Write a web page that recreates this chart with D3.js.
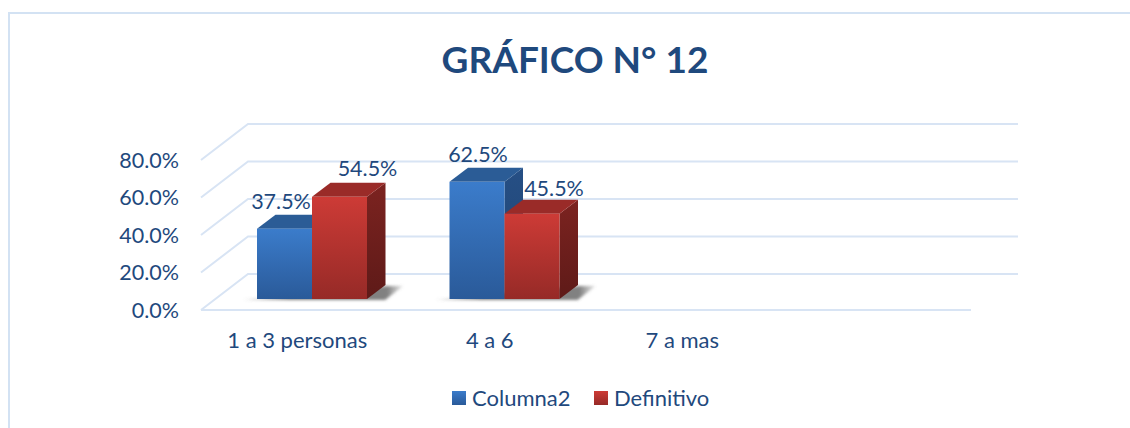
<!DOCTYPE html>
<html>
<head>
<meta charset="utf-8">
<script src="https://cdn.jsdelivr.net/npm/d3@7"></script>
<style>
html,body{margin:0;padding:0;background:#fff;overflow:hidden}
text{font-family:Lato,"Open Sans",sans-serif;fill:#1f497d}
</style>
</head>
<body>
<div id="chart"></div>
<script>
const titleText = "GRÁFICO N° 12";
const categories = ["1 a 3 personas", "4 a 6", "7 a mas", ""];
const seriesNames = ["Columna2", "Definitivo"];
const columna2 = [37.5, 62.5, null, null];
const definitivo = [54.5, 45.5, null, null];
const yTicks = [0, 20, 40, 60, 80];

const W = 1130, H = 428;
const wall = {dx: 47, dy: -36};
const barDepth = {dx: 18.5, dy: -14};
const barBase = 299;
const labelNudge = [[[-3.5, -27], [28, -28]], [[1, -27], [22, -25]]];
const gridColor = "#d8e4f4";

const svg = d3.select("#chart").append("svg").attr("width", W).attr("height", H);
const defs = svg.append("defs");

const x0 = d3.scaleBand().domain(categories).range([201, 971]);
const x1 = d3.scaleBand().domain(seriesNames).range([56, 166]);
const y = d3.scaleLinear().domain([0, 80]).range([310, 160]);

function grad(id, top, bottom) {
  const g = defs.append("linearGradient").attr("id", id).attr("x1", 0).attr("x2", 0).attr("y1", 0).attr("y2", 1);
  g.append("stop").attr("offset", "0%").attr("stop-color", top);
  g.append("stop").attr("offset", "100%").attr("stop-color", bottom);
}
grad("blueFront", "#3b7ccb", "#2a5a99");
grad("redFront", "#cd3b36", "#962a27");
grad("blueSide", "#264f85", "#1f4472");
grad("redSide", "#7c2320", "#5e1a18");
const sg = defs.append("linearGradient").attr("id", "shadow").attr("x1", 0).attr("x2", 1).attr("y1", 0).attr("y2", 0);
sg.append("stop").attr("offset", "0%").attr("stop-color", "#777").attr("stop-opacity", 0.25);
sg.append("stop").attr("offset", "30%").attr("stop-color", "#555").attr("stop-opacity", 0.75);
sg.append("stop").attr("offset", "90%").attr("stop-color", "#555").attr("stop-opacity", 0.75);
sg.append("stop").attr("offset", "100%").attr("stop-color", "#777").attr("stop-opacity", 0.2);
defs.append("filter").attr("id", "soft").attr("x", "-10%").attr("y", "-50%").attr("width", "120%").attr("height", "200%")
  .append("feGaussianBlur").attr("stdDeviation", 1.6);

// frame
svg.append("path").attr("d", `M9,${H} V13 H${W}`).attr("fill", "none").attr("stroke", "#d3e2f3").attr("stroke-width", 2);

// title
svg.append("text").attr("x", 575).attr("y", 73).attr("text-anchor", "middle")
  .attr("font-size", 37).attr("font-weight", 700).style("fill", "#1f497d").text(titleText);

// 3D gridlines
const left = x0.range()[0], right = x0.range()[1];
const grid = svg.append("g").attr("fill", "none").attr("stroke", gridColor).attr("stroke-width", 2);
yTicks.forEach(t => {
  grid.append("path").attr("d",
    `M${left},${y(t)} L${left + wall.dx},${y(t) + wall.dy} H${right + wall.dx}`);
});
grid.append("path").attr("d", `M${left},${y(0)} H${right}`);

// y labels
svg.append("g").selectAll("text").data(yTicks).join("text")
  .attr("x", 179).attr("y", d => y(d)).attr("dy", "0.35em")
  .attr("text-anchor", "end").attr("font-size", 21.5)
  .text(d => d3.format(".1f")(d) + "%");

// category labels
svg.append("g").selectAll("text").data(categories).join("text")
  .attr("x", d => x0(d) + x0.bandwidth() / 2).attr("y", 340).attr("dy", "0.35em")
  .attr("text-anchor", "middle").attr("font-size", 22).text(d => d);

// bars
const rows = [columna2, definitivo];
const ids = ["blue", "red"];
const topColors = ["#2b5c96", "#9a2b28"];
const barsG = svg.append("g");
categories.forEach((c, ci) => {
  const vals = rows.map(r => r[ci]);
  if (vals.every(v => v == null)) return;
  const sx = x0(c) + x1.range()[0], ex = x0(c) + x1.range()[1];
  barsG.append("path")
    .attr("d", `M${sx - 14},${barBase + 1} L${ex + 18},${barBase + 1} L${ex + 36},${barBase - 13} L${ex + 20},${barBase - 13} Z`)
    .attr("fill", "url(#shadow)").attr("filter", "url(#soft)");
  seriesNames.forEach((s, si) => {
    const v = vals[si];
    if (v == null) return;
    const bx = x0(c) + x1(s), bw = x1.bandwidth();
    const h = y(0) - y(v);
    const ty = barBase - h;
    const g = barsG.append("g");
    g.append("path").attr("d", `M${bx + bw},${ty} l${barDepth.dx},${barDepth.dy} V${barBase + barDepth.dy} l${-barDepth.dx},${-barDepth.dy} Z`)
      .attr("fill", `url(#${ids[si]}Side)`);
    g.append("path").attr("d", `M${bx},${ty} l${barDepth.dx},${barDepth.dy} h${bw} l${-barDepth.dx},${-barDepth.dy} Z`)
      .attr("fill", topColors[si]);
    g.append("rect").attr("x", bx).attr("y", ty).attr("width", bw).attr("height", h)
      .attr("fill", `url(#${ids[si]}Front)`);
  });
});

// value labels on top of the bars
categories.forEach((c, ci) => {
  seriesNames.forEach((s, si) => {
    const v = rows[si][ci];
    if (v == null) return;
    const h = y(0) - y(v);
    svg.append("text")
      .attr("x", x0(c) + x1(s) + x1.bandwidth() / 2 + labelNudge[ci][si][0])
      .attr("y", barBase - h + labelNudge[ci][si][1]).attr("dy", "0.35em")
      .attr("text-anchor", "middle").attr("font-size", 21.5)
      .text(d3.format(".1f")(v) + "%");
  });
});

// legend
const legendX = [452, 594];
const lg = svg.append("g");
seriesNames.forEach((s, i) => {
  lg.append("rect").attr("x", legendX[i]).attr("y", 391).attr("width", 14).attr("height", 14)
    .attr("fill", `url(#${ids[i]}Front)`);
  lg.append("text").attr("x", legendX[i] + 20).attr("y", 398).attr("dy", "0.35em")
    .attr("font-size", 22).text(s);
});
</script>
</body>
</html>
